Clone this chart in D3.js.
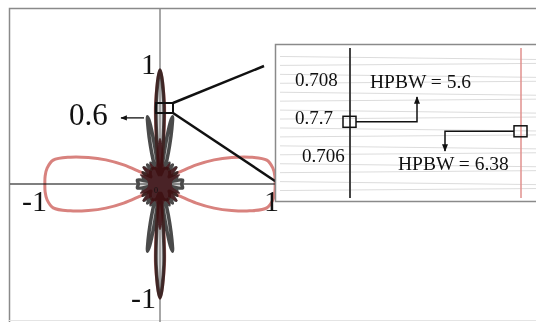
<!DOCTYPE html>
<html>
<head>
<meta charset="utf-8">
<script src="https://cdn.jsdelivr.net/npm/d3@7"></script>
<style>
  body { margin: 0; background: #fff; }
  svg { display: block; }
  text { font-family: "Liberation Serif", "DejaVu Serif", serif; fill: #111; }
</style>
</head>
<body>
<script>
// pattern data: angle in degrees clockwise from the top, normalised radius
var grayAngles = [0, 2.8, 4.5, 5.5, 6.5, 8, 9.5, 10.5, 12, 14, 16, 18, 20, 24, 28, 33, 38, 44, 50, 56, 62, 68, 74, 78, 80, 90, 100, 102, 106, 112, 118, 124, 130, 136, 142, 147, 152, 156, 160, 162, 164, 166, 168, 169.5, 170.5, 172, 173.5, 174.5, 175.5, 177.2,
                  180, 182.8, 184.5, 185.5, 186.5, 188, 189.5, 190.5, 192, 194, 196, 198, 200, 204, 208, 213, 218, 224, 230, 236, 242, 248, 254, 258, 260, 270, 280, 282, 286, 292, 298, 304, 310, 316, 322, 327, 332, 336, 340, 342, 344, 346, 348, 349.5, 350.5, 352, 353.5, 354.5, 355.5, 357.2];
var grayRadii  = [1.0, 0.707, 0.3, 0.06, 0.12, 0.35, 0.55, 0.6, 0.5, 0.35, 0.22, 0.12, 0.15, 0.2, 0.1, 0.2, 0.08, 0.2, 0.08, 0.18, 0.07, 0.16, 0.05, 0.08, 0.2, 0.19, 0.2, 0.08, 0.05, 0.16, 0.07, 0.18, 0.08, 0.2, 0.08, 0.2, 0.1, 0.2, 0.15, 0.12, 0.22, 0.35, 0.5, 0.6, 0.55, 0.35, 0.12, 0.06, 0.3, 0.707,
                  1.0, 0.707, 0.3, 0.06, 0.12, 0.35, 0.55, 0.6, 0.5, 0.35, 0.22, 0.12, 0.15, 0.2, 0.1, 0.2, 0.08, 0.2, 0.08, 0.18, 0.07, 0.16, 0.05, 0.08, 0.2, 0.19, 0.2, 0.08, 0.05, 0.16, 0.07, 0.18, 0.08, 0.2, 0.08, 0.2, 0.1, 0.2, 0.15, 0.12, 0.22, 0.35, 0.5, 0.6, 0.55, 0.35, 0.12, 0.06, 0.3, 0.707];

var redAngles = [0, 3.19, 5, 6.5, 15, 30, 45, 52, 56, 59, 62.3, 66, 69.7, 73.3, 77.4, 82, 86, 90, 94, 98, 102.6, 106.7, 110.3, 114, 117.7, 121, 124, 128, 135, 150, 165, 173.5, 175, 176.81,
                 180, 183.19, 185, 186.5, 195, 210, 225, 232, 236, 239, 242.3, 246, 249.7, 253.3, 257.4, 262, 266, 270, 274, 278, 282.6, 286.7, 290.3, 294, 297.7, 301, 304, 308, 315, 330, 345, 353.5, 355, 356.81];
var redRadii  = [1.0, 0.707, 0.33, 0.08, 0.14, 0.15, 0.12, 0.1, 0.15, 0.21, 0.36, 0.52, 0.67, 0.82, 0.96, 1.0, 1.01, 1.01, 1.01, 1.0, 0.96, 0.82, 0.67, 0.52, 0.36, 0.21, 0.15, 0.1, 0.12, 0.15, 0.14, 0.08, 0.33, 0.707,
                 1.0, 0.707, 0.33, 0.08, 0.14, 0.15, 0.12, 0.1, 0.15, 0.21, 0.36, 0.52, 0.67, 0.82, 0.96, 1.0, 1.01, 1.01, 1.01, 1.0, 0.96, 0.82, 0.67, 0.52, 0.36, 0.21, 0.15, 0.1, 0.12, 0.15, 0.14, 0.08, 0.33, 0.707];

// dense overlap in the middle
var coreAngles = [0, 4, 10, 18, 25, 32, 45, 55, 65, 75, 90, 105, 115, 125, 135, 148, 155, 162, 170, 176,
                  180, 184, 190, 198, 205, 212, 225, 235, 245, 255, 270, 285, 295, 305, 315, 328, 335, 342, 350, 356];
var coreRadii  = [0.4, 0.3, 0.17, 0.15, 0.2, 0.13, 0.21, 0.13, 0.19, 0.11, 0.1, 0.11, 0.19, 0.13, 0.21, 0.13, 0.2, 0.15, 0.17, 0.3,
                  0.4, 0.3, 0.17, 0.15, 0.2, 0.13, 0.21, 0.13, 0.19, 0.11, 0.1, 0.11, 0.19, 0.13, 0.21, 0.13, 0.2, 0.15, 0.17, 0.3];

var axisLabels = [{t: "1", x: 0, y: 1}, {t: "-1", x: -1, y: 0}, {t: "1", x: 1, y: 0}, {t: "-1", x: 0, y: -1}];

// zoomed window around the half power level
var insetTicks = [0.708, 0.707, 0.706];
var insetTickLabels = ["0.708", "0.7.7", "0.706"];
var halfAngles = [2.8, 3.19];          // gray, red
var halfLevels = [0.7069, 0.70665];
var hpbwLabels = ["HPBW = 5.6", "HPBW = 6.38"];

var width = 536, height = 322;
var cx = 160, cy = 184, R = 114;

var svg = d3.select("body").append("svg")
    .attr("width", width)
    .attr("height", height);

var x = d3.scaleLinear().domain([-1, 1]).range([cx - R, cx + R]);
var y = d3.scaleLinear().domain([-1, 1]).range([cy + R, cy - R]);
var r = d3.scaleLinear().domain([0, 1]).range([0, R]);

// frame
svg.append("path")
    .attr("d", "M9.5,322 V8.5 H536")
    .attr("fill", "none")
    .attr("stroke", "#8a8a8a")
    .attr("stroke-width", 1.5);
svg.append("line")
    .attr("x1", 9).attr("x2", 536).attr("y1", 320.5).attr("y2", 320.5)
    .attr("stroke", "#e4e4e4");

// axes
svg.append("line")
    .attr("x1", 10).attr("x2", width)
    .attr("y1", y(0)).attr("y2", y(0))
    .attr("stroke", "#555").attr("stroke-width", 1.5);
svg.append("line")
    .attr("x1", x(0)).attr("x2", x(0))
    .attr("y1", 9).attr("y2", height)
    .attr("stroke", "#8a8a8a").attr("stroke-width", 1.5);

function toPoints(angles, radii) {
    return angles.map(function(a, i) { return [a * Math.PI / 180, radii[i]]; });
}

var radial = d3.lineRadial()
    .angle(function(d) { return d[0]; })
    .radius(function(d) { return r(d[1]); })
    .curve(d3.curveCatmullRomClosed.alpha(0.5));

var g = svg.append("g")
    .attr("transform", "translate(" + cx + "," + cy + ")");

g.append("path")
    .attr("d", radial(toPoints(grayAngles, grayRadii)))
    .attr("fill", "rgba(150,150,150,0.35)")
    .attr("stroke", "#4a4a4a")
    .attr("stroke-width", 3.5)
    .attr("stroke-linejoin", "round");

g.append("path")
    .attr("d", radial(toPoints(coreAngles, coreRadii)))
    .attr("fill", "#4a2327")
    .attr("stroke", "#4a2327")
    .attr("stroke-width", 1);

g.append("path")
    .attr("d", radial(toPoints(redAngles, redRadii)))
    .attr("fill", "none")
    .attr("stroke", "#d8827e")
    .attr("stroke-width", 3)
    .attr("stroke-linejoin", "round")
    .style("mix-blend-mode", "multiply");

// axis end labels
svg.selectAll(".alab")
    .data(axisLabels)
    .enter().append("text")
    .attr("class", "alab")
    .attr("font-size", 30)
    .attr("text-anchor", "end")
    .attr("x", function(d) {
        if (d.x == 0) return x(0) - 4;
        return d.x < 0 ? x(d.x) + 1 : x(d.x) + 5;
    })
    .attr("y", function(d) {
        if (d.y > 0) return y(d.y) + 4;
        if (d.y < 0) return y(d.y) + 10;
        return y(0) + 27;
    })
    .text(function(d) { return d.t; });

svg.append("text")
    .attr("x", x(0) - 6).attr("y", y(0) + 9)
    .attr("font-size", 8)
    .text("0");

// side lobe level
svg.append("text")
    .attr("x", 69).attr("y", y(0.6) + 9)
    .attr("font-size", 31)
    .text("0.6");

var defs = svg.append("defs");
defs.append("marker")
    .attr("id", "arr")
    .attr("viewBox", "0 0 10 10")
    .attr("refX", 9).attr("refY", 5)
    .attr("markerWidth", 5).attr("markerHeight", 5)
    .attr("orient", "auto")
    .append("path")
    .attr("d", "M0,1 L10,5 L0,9 z")
    .attr("fill", "#111");

svg.append("line")
    .attr("x1", 144).attr("y1", y(0.58))
    .attr("x2", 121).attr("y2", y(0.58))
    .attr("stroke", "#111").attr("stroke-width", 1.3)
    .attr("marker-end", "url(#arr)");

// zoom box on the main lobe
svg.append("rect")
    .attr("x", 156).attr("y", 103)
    .attr("width", 17).attr("height", 10)
    .attr("fill", "none")
    .attr("stroke", "#111").attr("stroke-width", 2);
svg.append("line")
    .attr("x1", 173).attr("y1", 103).attr("x2", 264).attr("y2", 66)
    .attr("stroke", "#111").attr("stroke-width", 2.5);
svg.append("line")
    .attr("x1", 173).attr("y1", 113).attr("x2", 278).attr("y2", 183)
    .attr("stroke", "#111").attr("stroke-width", 2.5);

// inset
var inset = svg.append("g");
inset.append("rect")
    .attr("x", 275.5).attr("y", 44.5)
    .attr("width", 270).attr("height", 157)
    .attr("fill", "#fff")
    .attr("stroke", "#8a8a8a").attr("stroke-width", 1.5);

var iy = d3.scaleLinear().domain([0.706, 0.708]).range([156, 80]);
var ix = d3.scaleLinear().domain(halfAngles).range([350, 521]);

var faint = iy.copy().domain([0.7055, 0.7087]).range([195, 52]);
inset.selectAll(".gl")
    .data(d3.scaleLinear().domain([0.7055, 0.7087]).ticks(16))
    .enter().append("line")
    .attr("class", "gl")
    .attr("x1", 280).attr("x2", 536)
    .attr("y1", function(d) { return faint(d); })
    .attr("y2", function(d, i) { return faint(d) + (i % 2 ? 3 : -2); })
    .attr("stroke", "#dcdcdc").attr("stroke-width", 1);

inset.append("line")
    .attr("x1", ix(halfAngles[0])).attr("x2", ix(halfAngles[0]))
    .attr("y1", 48).attr("y2", 198)
    .attr("stroke", "#444").attr("stroke-width", 2);
inset.append("line")
    .attr("x1", ix(halfAngles[1])).attr("x2", ix(halfAngles[1]))
    .attr("y1", 48).attr("y2", 198)
    .attr("stroke", "#e0918e").attr("stroke-width", 1.5);

inset.selectAll(".itick")
    .data(insetTicks)
    .enter().append("text")
    .attr("class", "itick")
    .attr("x", function(d, i) { return i == 2 ? 302 : 295; })
    .attr("y", function(d) { return iy(d) + 6; })
    .attr("font-size", 19)
    .text(function(d, i) { return insetTickLabels[i]; });

// crossing markers and callouts
var sq = inset.selectAll(".sq")
    .data(halfAngles)
    .enter().append("rect")
    .attr("class", "sq")
    .attr("x", function(d) { return ix(d) - 7; })
    .attr("y", function(d, i) { return iy(halfLevels[i]) - 5.5; })
    .attr("width", 13).attr("height", 11)
    .attr("fill", "none")
    .attr("stroke", "#111").attr("stroke-width", 1.5);

var y0 = iy(halfLevels[0]), y1 = iy(halfLevels[1]);
inset.append("path")
    .attr("d", "M" + (ix(halfAngles[0]) + 6) + "," + y0 + " H417 V97")
    .attr("fill", "none")
    .attr("stroke", "#111").attr("stroke-width", 1.5)
    .attr("marker-end", "url(#arr)");
inset.append("path")
    .attr("d", "M" + (ix(halfAngles[1]) - 7) + "," + y1 + " H445 V151")
    .attr("fill", "none")
    .attr("stroke", "#111").attr("stroke-width", 1.5)
    .attr("marker-end", "url(#arr)");

inset.append("text")
    .attr("x", 370).attr("y", 88)
    .attr("font-size", 19.5)
    .text(hpbwLabels[0]);
inset.append("text")
    .attr("x", 398).attr("y", 170)
    .attr("font-size", 19.5)
    .text(hpbwLabels[1]);
</script>
</body>
</html>
